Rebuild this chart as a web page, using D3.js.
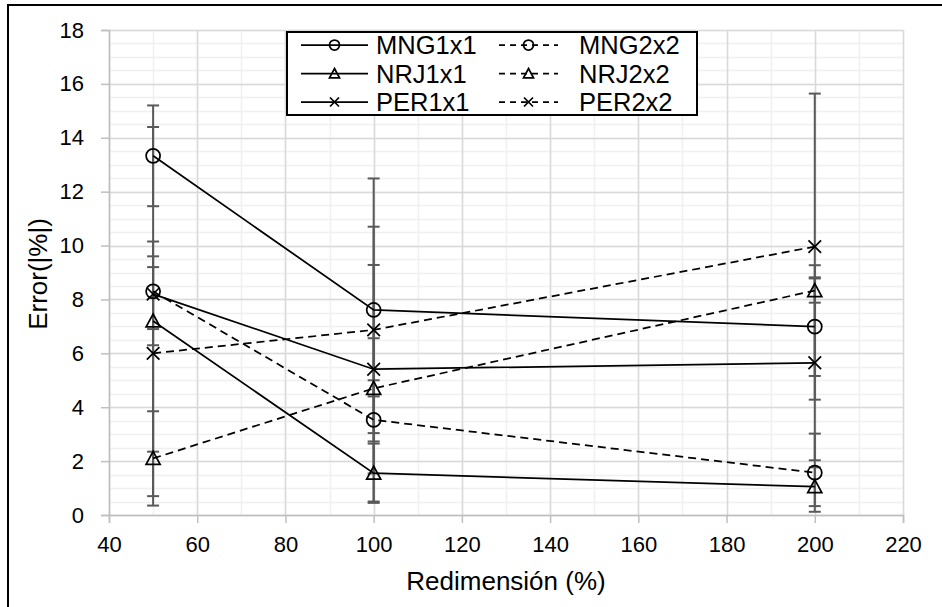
<!DOCTYPE html>
<html>
<head>
<meta charset="utf-8">
<script src="https://cdn.jsdelivr.net/npm/d3@7"></script>
<style>
  html, body { margin: 0; padding: 0; background: #fff; }
  svg { display: block; font-family: "Liberation Sans", Arial, sans-serif; }
</style>
</head>
<body>
<svg id="chart" width="942" height="607"></svg>
<script>
// Resize percentages on the x axis
const xValues = [50, 100, 200];

// Mean error per configuration
const mng1x1 = [13.33, 7.61, 6.99];
const mng2x2 = [8.30, 3.53, 1.57];
const nrj1x1 = [7.20, 1.55, 1.05];
const nrj2x2 = [2.10, 4.70, 8.33];
const per1x1 = [8.20, 5.41, 5.65];
const per2x2 = [6.00, 6.87, 9.96];

// Error bar amounts (plus / minus)
const mng1x1Plus = [1.87, 4.88, 1.83], mng1x1Minus = [1.87, 4.88, 1.83];
const mng2x2Plus = [1.30, 3.03, 1.45], mng2x2Minus = [1.40, 3.03, 1.45];
const nrj1x1Plus = [7.20, 1.10, 0.72], nrj1x1Minus = [6.50, 1.10, 0.72];
const nrj2x2Plus = [1.75, 0.30, 0.45], nrj2x2Minus = [1.75, 0.30, 0.45];
const per1x1Plus = [1.95, 3.87, 3.62], per1x1Minus = [1.90, 3.87, 3.62];
const per2x2Plus = [3.20, 3.83, 5.68], per2x2Minus = [3.65, 3.83, 5.68];

const seriesNames = ["MNG1x1", "MNG2x2", "NRJ1x1", "NRJ2x2", "PER1x1", "PER2x2"];
const seriesValues = [mng1x1, mng2x2, nrj1x1, nrj2x2, per1x1, per2x2];
const seriesPlus = [mng1x1Plus, mng2x2Plus, nrj1x1Plus, nrj2x2Plus, per1x1Plus, per2x2Plus];
const seriesMinus = [mng1x1Minus, mng2x2Minus, nrj1x1Minus, nrj2x2Minus, per1x1Minus, per2x2Minus];
const seriesMarker = ["circle", "circle", "triangle", "triangle", "cross", "cross"];
const seriesDashed = [false, true, false, true, false, true];

const xTicks = [40, 60, 80, 100, 120, 140, 160, 180, 200, 220];
const yTicks = [0, 2, 4, 6, 8, 10, 12, 14, 16, 18];
const xTitle = "Redimensión (%)";
const yTitle = "Error(|%|)";

const svg = d3.select("#chart");
const plot = { left: 109, right: 903, top: 30, bottom: 515 };

const x = d3.scaleLinear().domain([40, 220]).range([plot.left, plot.right]);
const y = d3.scaleLinear().domain([0, 18]).range([plot.bottom, plot.top]);

// Outer chart frame
svg.append("rect")
  .attr("x", 8).attr("y", 5).attr("width", 960).attr("height", 640)
  .attr("fill", "none").attr("stroke", "#000").attr("stroke-width", 2);

// Minor gridlines
const g = svg.append("g");
g.selectAll("line.ymin").data(d3.range(0, 18.01, 0.5)).join("line")
  .attr("x1", plot.left).attr("x2", plot.right)
  .attr("y1", d => Math.round(y(d)) + 0.5).attr("y2", d => Math.round(y(d)) + 0.5)
  .attr("stroke", "#f0f0f0").attr("stroke-width", 1.5);
g.selectAll("line.xmin").data(d3.range(40, 220.1, 10)).join("line")
  .attr("y1", plot.top).attr("y2", plot.bottom)
  .attr("x1", d => Math.round(x(d)) + 0.5).attr("x2", d => Math.round(x(d)) + 0.5)
  .attr("stroke", "#f0f0f0").attr("stroke-width", 1.5);

// Major gridlines
g.selectAll("line.ymaj").data(yTicks).join("line")
  .attr("x1", plot.left).attr("x2", plot.right)
  .attr("y1", d => Math.round(y(d)) + 0.5).attr("y2", d => Math.round(y(d)) + 0.5)
  .attr("stroke", "#d9d9d9").attr("stroke-width", 1.5);
g.selectAll("line.xmaj").data(xTicks).join("line")
  .attr("y1", plot.top).attr("y2", plot.bottom)
  .attr("x1", d => Math.round(x(d)) + 0.5).attr("x2", d => Math.round(x(d)) + 0.5)
  .attr("stroke", "#d9d9d9").attr("stroke-width", 1.5);

// Axes
const yAxis = svg.append("g").attr("transform", `translate(${plot.left},0)`)
  .call(d3.axisLeft(y).tickValues(yTicks).tickSize(8).tickPadding(17).tickFormat(d3.format("d")));
const xAxis = svg.append("g").attr("transform", `translate(0,${plot.bottom})`)
  .call(d3.axisBottom(x).tickValues(xTicks).tickSize(8).tickPadding(13).tickFormat(d3.format("d")));
[yAxis, xAxis].forEach(a => {
  a.select(".domain").attr("stroke", "#bfbfbf").attr("stroke-width", 1.5);
  a.selectAll(".tick line").attr("stroke", "#bfbfbf").attr("stroke-width", 1.5);
  a.selectAll(".tick text").attr("fill", "#000").attr("font-size", 22)
    .attr("font-family", "'Liberation Sans', Arial, sans-serif");
});

// Axis titles
svg.append("text").attr("x", (plot.left + plot.right) / 2).attr("y", 590)
  .attr("text-anchor", "middle").attr("font-size", 26).attr("fill", "#000").text(xTitle);
svg.append("text").attr("transform", "translate(47,274) rotate(-90)")
  .attr("text-anchor", "middle").attr("font-size", 26).attr("fill", "#000").text(yTitle);

// Error bars
const eb = svg.append("g");
seriesValues.forEach((vals, s) => {
  vals.forEach((v, i) => {
    const cx = x(xValues[i]);
    const hi = y(v + seriesPlus[s][i]);
    const lo = y(v - seriesMinus[s][i]);
    eb.append("line").attr("x1", cx).attr("x2", cx).attr("y1", hi).attr("y2", lo)
      .attr("stroke", "#595959").attr("stroke-width", 2);
    [hi, lo].forEach(yy => eb.append("line")
      .attr("x1", cx - 6).attr("x2", cx + 6).attr("y1", yy).attr("y2", yy)
      .attr("stroke", "#595959").attr("stroke-width", 2));
  });
});

// Marker drawing
function drawMarker(sel, type, cx, cy, r) {
  if (type === "circle") {
    sel.append("circle").attr("cx", cx).attr("cy", cy).attr("r", r)
      .attr("fill", "none").attr("stroke", "#000").attr("stroke-width", 1.75);
  } else if (type === "triangle") {
    const h = r * 1.0;
    sel.append("path")
      .attr("d", `M${cx},${cy - h}L${cx + r},${cy + h * 0.85}L${cx - r},${cy + h * 0.85}Z`)
      .attr("fill", "none").attr("stroke", "#000").attr("stroke-width", 1.75);
  } else {
    const k = r * 0.9;
    sel.append("path")
      .attr("d", `M${cx - k},${cy - k}L${cx + k},${cy + k}M${cx - k},${cy + k}L${cx + k},${cy - k}`)
      .attr("fill", "none").attr("stroke", "#000").attr("stroke-width", 1.75);
  }
}

// Series lines and markers
const line = d3.line().x((d, i) => x(xValues[i])).y(d => y(d));
const lines = svg.append("g");
seriesValues.forEach((vals, s) => {
  lines.append("path").datum(vals).attr("d", line)
    .attr("fill", "none").attr("stroke", "#000").attr("stroke-width", 1.75)
    .attr("stroke-dasharray", seriesDashed[s] ? "8,5" : null);
});
seriesValues.forEach((vals, s) => {
  vals.forEach((v, i) => drawMarker(lines, seriesMarker[s], x(xValues[i]), y(v), 7));
});

// Legend
const legend = svg.append("g");
legend.append("rect").attr("x", 287).attr("y", 32).attr("width", 410).attr("height", 83)
  .attr("fill", "#fff").attr("stroke", "#000").attr("stroke-width", 2);
seriesNames.forEach((name, s) => {
  const col = s % 2, row = Math.floor(s / 2);
  const ly = 45 + row * 28.5;
  const x0 = col === 0 ? 301 : 499;
  const x1 = col === 0 ? 368 : 558;
  legend.append("line").attr("x1", x0).attr("x2", x1).attr("y1", ly).attr("y2", ly)
    .attr("stroke", "#000").attr("stroke-width", 1.75)
    .attr("stroke-dasharray", seriesDashed[s] ? "6,5" : null);
  drawMarker(legend, seriesMarker[s], (x0 + x1) / 2, ly, 5);
  legend.append("text").attr("x", col === 0 ? 376 : 579).attr("y", ly + 9)
    .attr("font-size", 25.5).attr("fill", "#000").text(name);
});
</script>
</body>
</html>
